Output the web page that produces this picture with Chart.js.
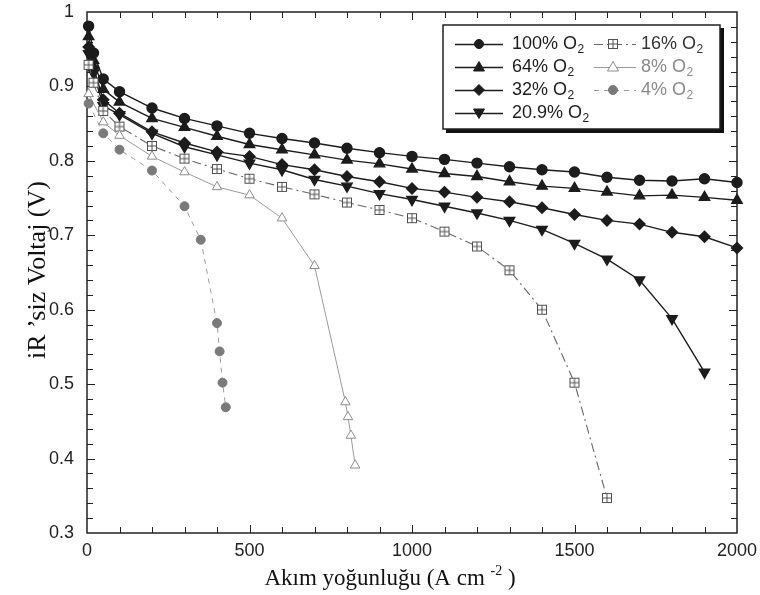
<!DOCTYPE html>
<html>
<head>
<meta charset="utf-8">
<script src="https://cdn.jsdelivr.net/npm/chart.js"></script>
<style>
  html, body { margin: 0; padding: 0; background: #fff; }
  #wrap { width: 760px; height: 595px; position: relative; }
</style>
</head>
<body>
<div id="wrap"><canvas id="myChart" width="760" height="595"></canvas></div>
<script>
// akım yoğunluğu değerleri (x)
const currents = [5, 20, 50, 100, 200, 300, 400, 500, 600, 700, 800, 900, 1000, 1100, 1200, 1300, 1400, 1500, 1600, 1700, 1800, 1900, 2000];
const curr16 = [5, 20, 50, 100, 200, 300, 400, 500, 600, 700, 800, 900, 1000, 1100, 1200, 1300, 1400, 1500, 1600];
const curr8 = [5, 50, 100, 200, 300, 400, 500, 600, 700, 795, 803, 812, 825];
const curr4 = [5, 50, 100, 200, 300, 350, 400, 408, 417, 427];

// voltaj değerleri (y)
const volt100 = [0.981, 0.945, 0.910, 0.893, 0.871, 0.857, 0.847, 0.837, 0.830, 0.824, 0.817, 0.811, 0.806, 0.802, 0.797, 0.792, 0.788, 0.785, 0.778, 0.774, 0.773, 0.776, 0.771];
const volt64 = [0.967, 0.935, 0.896, 0.879, 0.857, 0.845, 0.833, 0.822, 0.815, 0.808, 0.801, 0.796, 0.789, 0.783, 0.779, 0.772, 0.766, 0.763, 0.758, 0.753, 0.754, 0.751, 0.747];
const volt32 = [0.953, 0.925, 0.882, 0.864, 0.839, 0.824, 0.812, 0.806, 0.795, 0.788, 0.779, 0.772, 0.763, 0.758, 0.751, 0.745, 0.737, 0.728, 0.720, 0.715, 0.704, 0.698, 0.683];
const volt209 = [0.944, 0.918, 0.874, 0.862, 0.837, 0.819, 0.808, 0.797, 0.788, 0.775, 0.766, 0.756, 0.748, 0.739, 0.730, 0.720, 0.708, 0.689, 0.668, 0.640, 0.588, 0.516];
const volt16 = [0.929, 0.905, 0.867, 0.846, 0.820, 0.803, 0.789, 0.776, 0.765, 0.755, 0.744, 0.734, 0.723, 0.705, 0.685, 0.653, 0.600, 0.502, 0.347];
const volt8 = [0.890, 0.852, 0.834, 0.806, 0.785, 0.765, 0.754, 0.723, 0.659, 0.476, 0.456, 0.431, 0.391];
const volt4 = [0.877, 0.837, 0.815, 0.787, 0.739, 0.694, 0.582, 0.544, 0.502, 0.469];

const seriesLabels = ["100%", "64%", "32%", "20.9%", "16%", "8%", "4%"];
const xLabelTicks = [0, 500, 1000, 1500, 2000];
const yLabelTicks = [0.3, 0.4, 0.5, 0.6, 0.7, 0.8, 0.9, 1];

const DARK = "#1c1c1c";
const MID = "#505050";
const LIGHT = "#8c8c8c";

// ⊞ işareti için küçük canvas
function makeBoxCross(color) {
  const c = document.createElement("canvas");
  c.width = 12; c.height = 12;
  const g = c.getContext("2d");
  g.strokeStyle = color;
  g.lineWidth = 1;
  g.fillStyle = "#fff";
  g.fillRect(1, 1, 10, 10);
  g.strokeRect(1.5, 1.5, 9, 9);
  g.beginPath();
  g.moveTo(6, 1.5); g.lineTo(6, 10.5);
  g.moveTo(1.5, 6); g.lineTo(10.5, 6);
  g.stroke();
  return c;
}
const boxCross = makeBoxCross(MID);

function pts(xs, ys) {
  return ys.map((v, i) => ({ x: xs[i], y: v }));
}

const datasets = [
  { label: seriesLabels[6], data: pts(curr4, volt4), borderColor: "#9a9a9a", borderWidth: 1, borderDash: [5, 5],
    pointStyle: "circle", pointRadius: 4.5, pointBackgroundColor: "#7a7a7a", pointBorderColor: "#7a7a7a" },
  { label: seriesLabels[5], data: pts(curr8, volt8), borderColor: "#9a9a9a", borderWidth: 1,
    pointStyle: "triangle", pointRadius: 5.5, pointBackgroundColor: "#fff", pointBorderColor: LIGHT, pointBorderWidth: 1 },
  { label: seriesLabels[4], data: pts(curr16, volt16), borderColor: "#666", borderWidth: 1.1, borderDash: [9, 4, 2, 4],
    pointStyle: boxCross, pointRadius: 6 },
  { label: seriesLabels[3], data: pts(currents, volt209), borderColor: DARK, borderWidth: 1.4,
    pointStyle: "triangle", pointRotation: 180, pointRadius: 6, pointBackgroundColor: DARK, pointBorderColor: DARK },
  { label: seriesLabels[2], data: pts(currents, volt32), borderColor: DARK, borderWidth: 1.4,
    pointStyle: "rectRot", pointRadius: 5.5, pointBackgroundColor: DARK, pointBorderColor: DARK },
  { label: seriesLabels[1], data: pts(currents, volt64), borderColor: DARK, borderWidth: 1.4,
    pointStyle: "triangle", pointRadius: 6, pointBackgroundColor: DARK, pointBorderColor: DARK },
  { label: seriesLabels[0], data: pts(currents, volt100), borderColor: DARK, borderWidth: 1.4,
    pointStyle: "circle", pointRadius: 5, pointBackgroundColor: DARK, pointBorderColor: DARK }
];
datasets.forEach(d => { d.showLine = true; d.tension = 0; d.clip = false; d.fill = false; });

// lejant için işaret çizimi
function drawMarker(ctx, kind, x, y, color, fill) {
  ctx.save();
  ctx.fillStyle = fill;
  ctx.strokeStyle = color;
  ctx.lineWidth = 1;
  ctx.beginPath();
  if (kind === "circle") {
    ctx.arc(x, y, 4.5, 0, Math.PI * 2);
  } else if (kind === "up") {
    ctx.moveTo(x, y - 5.5); ctx.lineTo(x + 5.5, y + 4); ctx.lineTo(x - 5.5, y + 4); ctx.closePath();
  } else if (kind === "down") {
    ctx.moveTo(x, y + 5.5); ctx.lineTo(x + 5.5, y - 4); ctx.lineTo(x - 5.5, y - 4); ctx.closePath();
  } else if (kind === "diamond") {
    ctx.moveTo(x, y - 5.5); ctx.lineTo(x + 5.5, y); ctx.lineTo(x, y + 5.5); ctx.lineTo(x - 5.5, y); ctx.closePath();
  }
  ctx.fill();
  ctx.stroke();
  ctx.restore();
}

function drawO2(ctx, pct, x, y, color) {
  ctx.save();
  ctx.fillStyle = color;
  ctx.textBaseline = "middle";
  ctx.textAlign = "left";
  ctx.font = "18px 'Liberation Sans', Arial, sans-serif";
  const t = pct + " O";
  ctx.fillText(t, x, y);
  const w = ctx.measureText(t).width;
  ctx.font = "12px 'Liberation Sans', Arial, sans-serif";
  ctx.fillText("2", x + w + 0.5, y + 6);
  ctx.restore();
}

const frame = {
  id: "frame",
  beforeDatasetsDraw(chart) {
    const { ctx, chartArea: a, scales } = chart;
    ctx.save();
    ctx.strokeStyle = "#222";
    ctx.lineWidth = 1.5;
    ctx.strokeRect(a.left, a.top, a.right - a.left, a.bottom - a.top);
    ctx.lineWidth = 1;
    ctx.beginPath();
    scales.x.ticks.forEach(t => {
      if (t.value <= 0 || t.value >= 2000) return;
      const px = Math.round(scales.x.getPixelForValue(t.value)) + 0.5;
      const len = t.value % 500 === 0 ? 8 : 6;
      ctx.moveTo(px, a.bottom); ctx.lineTo(px, a.bottom - len);
      ctx.moveTo(px, a.top); ctx.lineTo(px, a.top + len);
    });
    scales.y.ticks.forEach(t => {
      if (t.value <= 0.301 || t.value >= 0.999) return;
      const py = Math.round(scales.y.getPixelForValue(t.value)) + 0.5;
      const major = Math.abs(t.value * 10 - Math.round(t.value * 10)) < 1e-6;
      const len = major ? 8 : 6;
      ctx.moveTo(a.left, py); ctx.lineTo(a.left + len, py);
      ctx.moveTo(a.right, py); ctx.lineTo(a.right - len, py);
    });
    ctx.stroke();
    ctx.restore();
  },
  afterDraw(chart) {
    const ctx = chart.ctx;
    ctx.save();

    // lejant kutusu
    const bx = 443, by = 25, bw = 277, bh = 104;
    ctx.fillStyle = "#fff";
    ctx.fillRect(bx, by, bw, bh);
    ctx.fillStyle = "#111";
    ctx.fillRect(bx + bw, by + 3, 4, bh + 1);
    ctx.fillRect(bx + 3, by + bh, bw + 1, 4);
    ctx.strokeStyle = "#222";
    ctx.lineWidth = 1.5;
    ctx.strokeRect(bx, by, bw, bh);

    const rows = [44, 67, 90, 113];
    const kinds1 = ["circle", "up", "diamond", "down"];
    ctx.lineWidth = 1.3;
    for (let i = 0; i < 4; i++) {
      const y = rows[i];
      ctx.strokeStyle = DARK;
      ctx.setLineDash([]);
      ctx.beginPath(); ctx.moveTo(455, y + 0.5); ctx.lineTo(503, y + 0.5); ctx.stroke();
      drawMarker(ctx, kinds1[i], 479, y, DARK, DARK);
      drawO2(ctx, seriesLabels[i], 512, y, DARK);
    }
    // ikinci sütun
    let y = rows[0];
    ctx.strokeStyle = "#666"; ctx.lineWidth = 1.1;
    ctx.setLineDash([9, 4, 2, 4]);
    ctx.beginPath(); ctx.moveTo(594, y + 0.5); ctx.lineTo(636, y + 0.5); ctx.stroke();
    ctx.setLineDash([]);
    ctx.drawImage(boxCross, 607, y - 6);
    drawO2(ctx, seriesLabels[4], 641, y, "#333");

    y = rows[1];
    ctx.strokeStyle = "#9a9a9a"; ctx.lineWidth = 1;
    ctx.beginPath(); ctx.moveTo(594, y + 0.5); ctx.lineTo(636, y + 0.5); ctx.stroke();
    drawMarker(ctx, "up", 613, y, LIGHT, "#fff");
    drawO2(ctx, seriesLabels[5], 641, y, "#8a8a8a");

    y = rows[2];
    ctx.setLineDash([5, 5]);
    ctx.beginPath(); ctx.moveTo(594, y + 0.5); ctx.lineTo(636, y + 0.5); ctx.stroke();
    ctx.setLineDash([]);
    drawMarker(ctx, "circle", 613, y, "#7a7a7a", "#7a7a7a");
    drawO2(ctx, seriesLabels[6], 641, y, "#8a8a8a");

    // eksen başlıkları
    ctx.fillStyle = "#111";
    ctx.textBaseline = "alphabetic";
    const part1 = "Akım yoğunluğu (A cm ";
    const part2 = "-2";
    const part3 = " )";
    ctx.font = "23px 'Liberation Serif', serif";
    const w1 = ctx.measureText(part1).width;
    const w3 = ctx.measureText(part3).width;
    ctx.font = "14px 'Liberation Serif', serif";
    const w2 = ctx.measureText(part2).width;
    let x0 = 390 - (w1 + w2 + w3) / 2;
    ctx.font = "23px 'Liberation Serif', serif";
    ctx.fillText(part1, x0, 585);
    ctx.font = "14px 'Liberation Serif', serif";
    ctx.fillText(part2, x0 + w1, 575);
    ctx.font = "23px 'Liberation Serif', serif";
    ctx.fillText(part3, x0 + w1 + w2, 585);

    ctx.translate(38, 270);
    ctx.rotate(-Math.PI / 2);
    ctx.textAlign = "center";
    ctx.textBaseline = "middle";
    ctx.font = "26px 'Liberation Serif', serif";
    ctx.fillText("iR ’siz Voltaj (V)", 0, 0);
    ctx.restore();
  }
};

const ctx = document.getElementById("myChart").getContext("2d");
const chart = new Chart(ctx, {
  type: "scatter",
  data: { datasets },
  options: {
    responsive: false,
    animation: false,
    events: [],
    layout: { padding: { left: 0, right: 23, top: 12, bottom: 0 }, autoPadding: false },
    plugins: { legend: { display: false }, tooltip: { enabled: false } },
    scales: {
      x: {
        type: "linear", min: 0, max: 2000,
        grid: { display: false, drawTicks: false },
        border: { display: false },
        afterFit: s => { s.height = 62; s.paddingLeft = 0; s.paddingRight = 0; },
        ticks: {
          stepSize: 100, autoSkip: false, maxRotation: 0, padding: 7, color: "#222",
          font: { family: "'Liberation Sans', Arial, sans-serif", size: 18 },
          callback: v => xLabelTicks.includes(v) ? String(v) : ""
        }
      },
      y: {
        type: "linear", min: 0.3, max: 1,
        grid: { display: false, drawTicks: false },
        border: { display: false },
        afterFit: s => { s.width = 87; s.paddingTop = 0; s.paddingBottom = 0; },
        ticks: {
          stepSize: 0.02, autoSkip: false, padding: 13, color: "#222",
          font: { family: "'Liberation Sans', Arial, sans-serif", size: 18 },
          callback: v => {
            const hit = yLabelTicks.find(t => Math.abs(t - v) < 1e-6);
            if (hit === undefined) return "";
            return hit === 1 ? "1" : hit.toFixed(1);
          }
        }
      }
    }
  },
  plugins: [frame]
});
</script>
</body>
</html>
